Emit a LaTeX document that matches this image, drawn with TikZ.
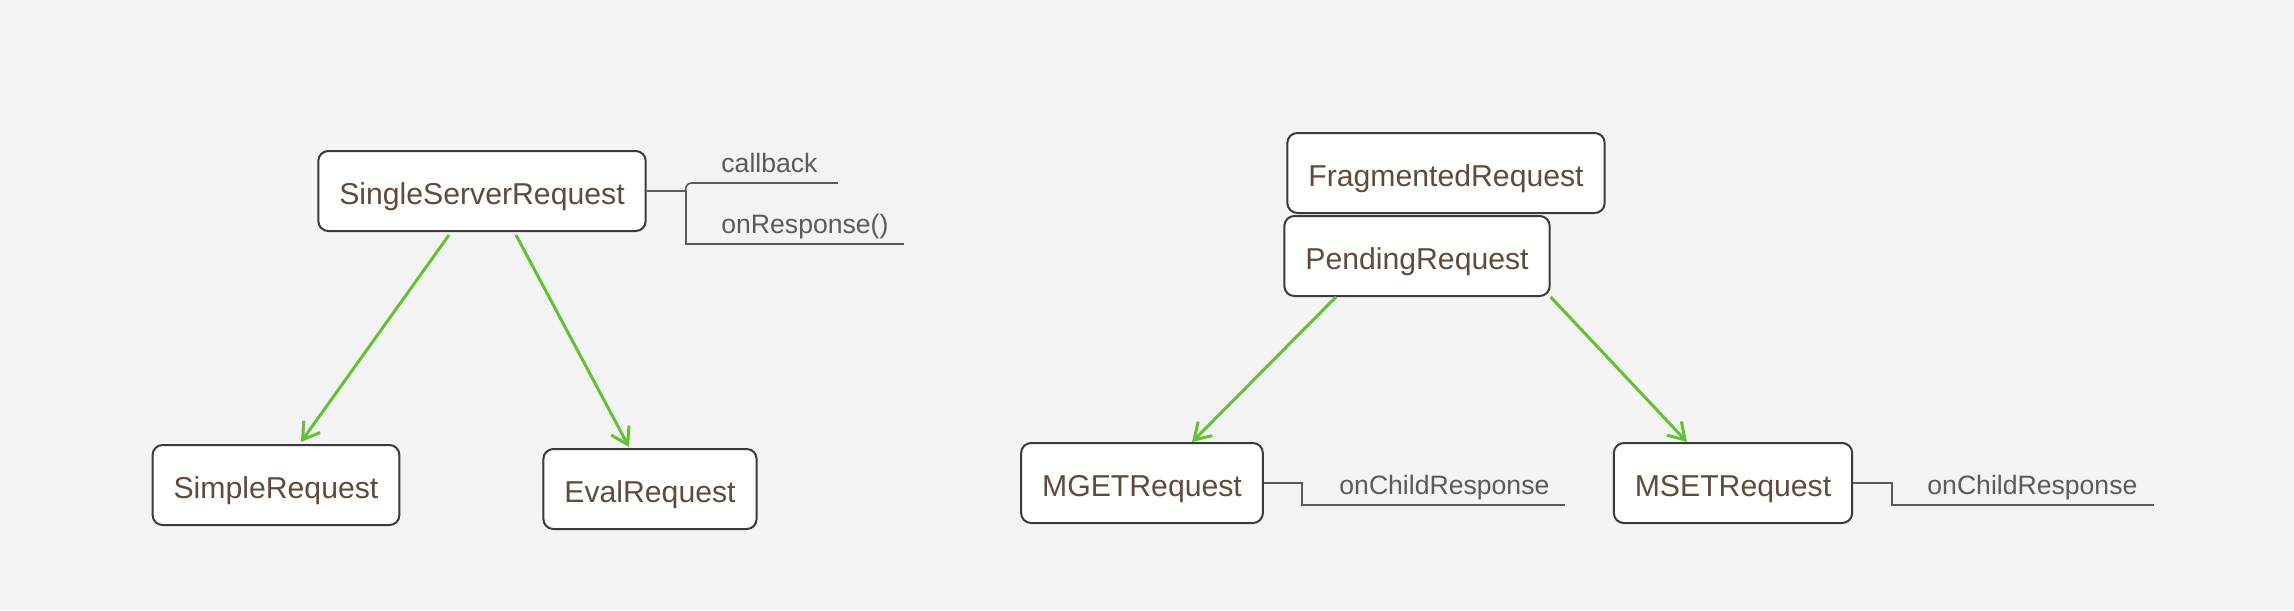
\documentclass[tikz,border=0pt]{standalone}
\usepackage{fontspec}
\setmainfont{Liberation Sans}
\usetikzlibrary{arrows.meta,calc}
\definecolor{reqbg}{HTML}{F4F4F4}
\definecolor{reqgreen}{HTML}{64C034}
\definecolor{reqedge}{HTML}{3A3A3A}
\definecolor{reqtext}{HTML}{5F4B3B}
\definecolor{reqgray}{HTML}{5A5A5A}

\tikzset{
  req/.style={draw=reqedge, line width=1pt, fill=white, rounded corners=5pt,
    minimum height=40pt, inner xsep=10.5pt, text=reqtext,
    text height=13pt, text depth=0pt,
    font=\fontsize{15.1}{18}\selectfont},
  inherit/.style={-{Straight Barb[length=8pt,width=10pt]}, reqgreen, line width=1.5pt},
  branch/.style={reqgray, line width=0.8pt},
  member/.style={anchor=base west, inner sep=0pt, text=reqgray,
    font=\fontsize{13.3}{16}\selectfont},
}

\begin{document}
\begin{tikzpicture}[x=0.5pt, y=-0.5pt]
  % canvas
  \fill[reqbg] (0,0) rectangle (2294,610);

  % SingleServerRequest and its subclasses
  \node[req] (ssr) at (482,191) {SingleServerRequest};
  \node[req] (simple) at (276,485) {SimpleRequest};
  \node[req] (eval) at (650,489) {EvalRequest};
  \draw[inherit] ($(ssr.south)+(-33,3)$) -- ($(simple.north)+(25,-2)$);
  \draw[inherit] ($(ssr.south)+(34,3)$) -- ($(eval.north)+(-21,-1)$);

  % members of SingleServerRequest
  \coordinate (fork) at ($(ssr.east)+(39,0)$);
  \coordinate (cbend) at (838,183);
  \coordinate (onrend) at (904,244);
  \node[member] (cb) at (721,172) {callback};
  \node[member] (onr) at (721,233) {onResponse()};
  \draw[branch] (ssr.east) -- (fork);
  \draw[branch, rounded corners=3pt] (fork) |- (cbend);
  \draw[branch] (fork) |- (onrend);

  % PendingRequest and its subclasses
  \node[req] (frag) at (1446,173) {FragmentedRequest};
  \node[req] (pend) at (1417,256) {PendingRequest};
  \node[req] (mget) at (1142,483) {MGETRequest};
  \node[req] (mset) at (1733,483) {MSETRequest};
  \draw[inherit] ($(pend.south)+(-81,0)$) -- ($(mget.north)+(50,0)$);
  \draw[inherit] (pend.south east) -- ($(mset.north)+(-46,0)$);

  % child response hooks
  \coordinate (mgetfork) at ($(mget.east)+(38,0)$);
  \coordinate (mgetend) at (1565,505);
  \node[member] (mgetcb) at (1339,494) {onChildResponse};
  \draw[branch] (mget.east) -- (mgetfork) |- (mgetend);

  \coordinate (msetfork) at ($(mset.east)+(39,0)$);
  \coordinate (msetend) at (2154,505);
  \node[member] (msetcb) at (1927,494) {onChildResponse};
  \draw[branch] (mset.east) -- (msetfork) |- (msetend);
\end{tikzpicture}
\end{document}
